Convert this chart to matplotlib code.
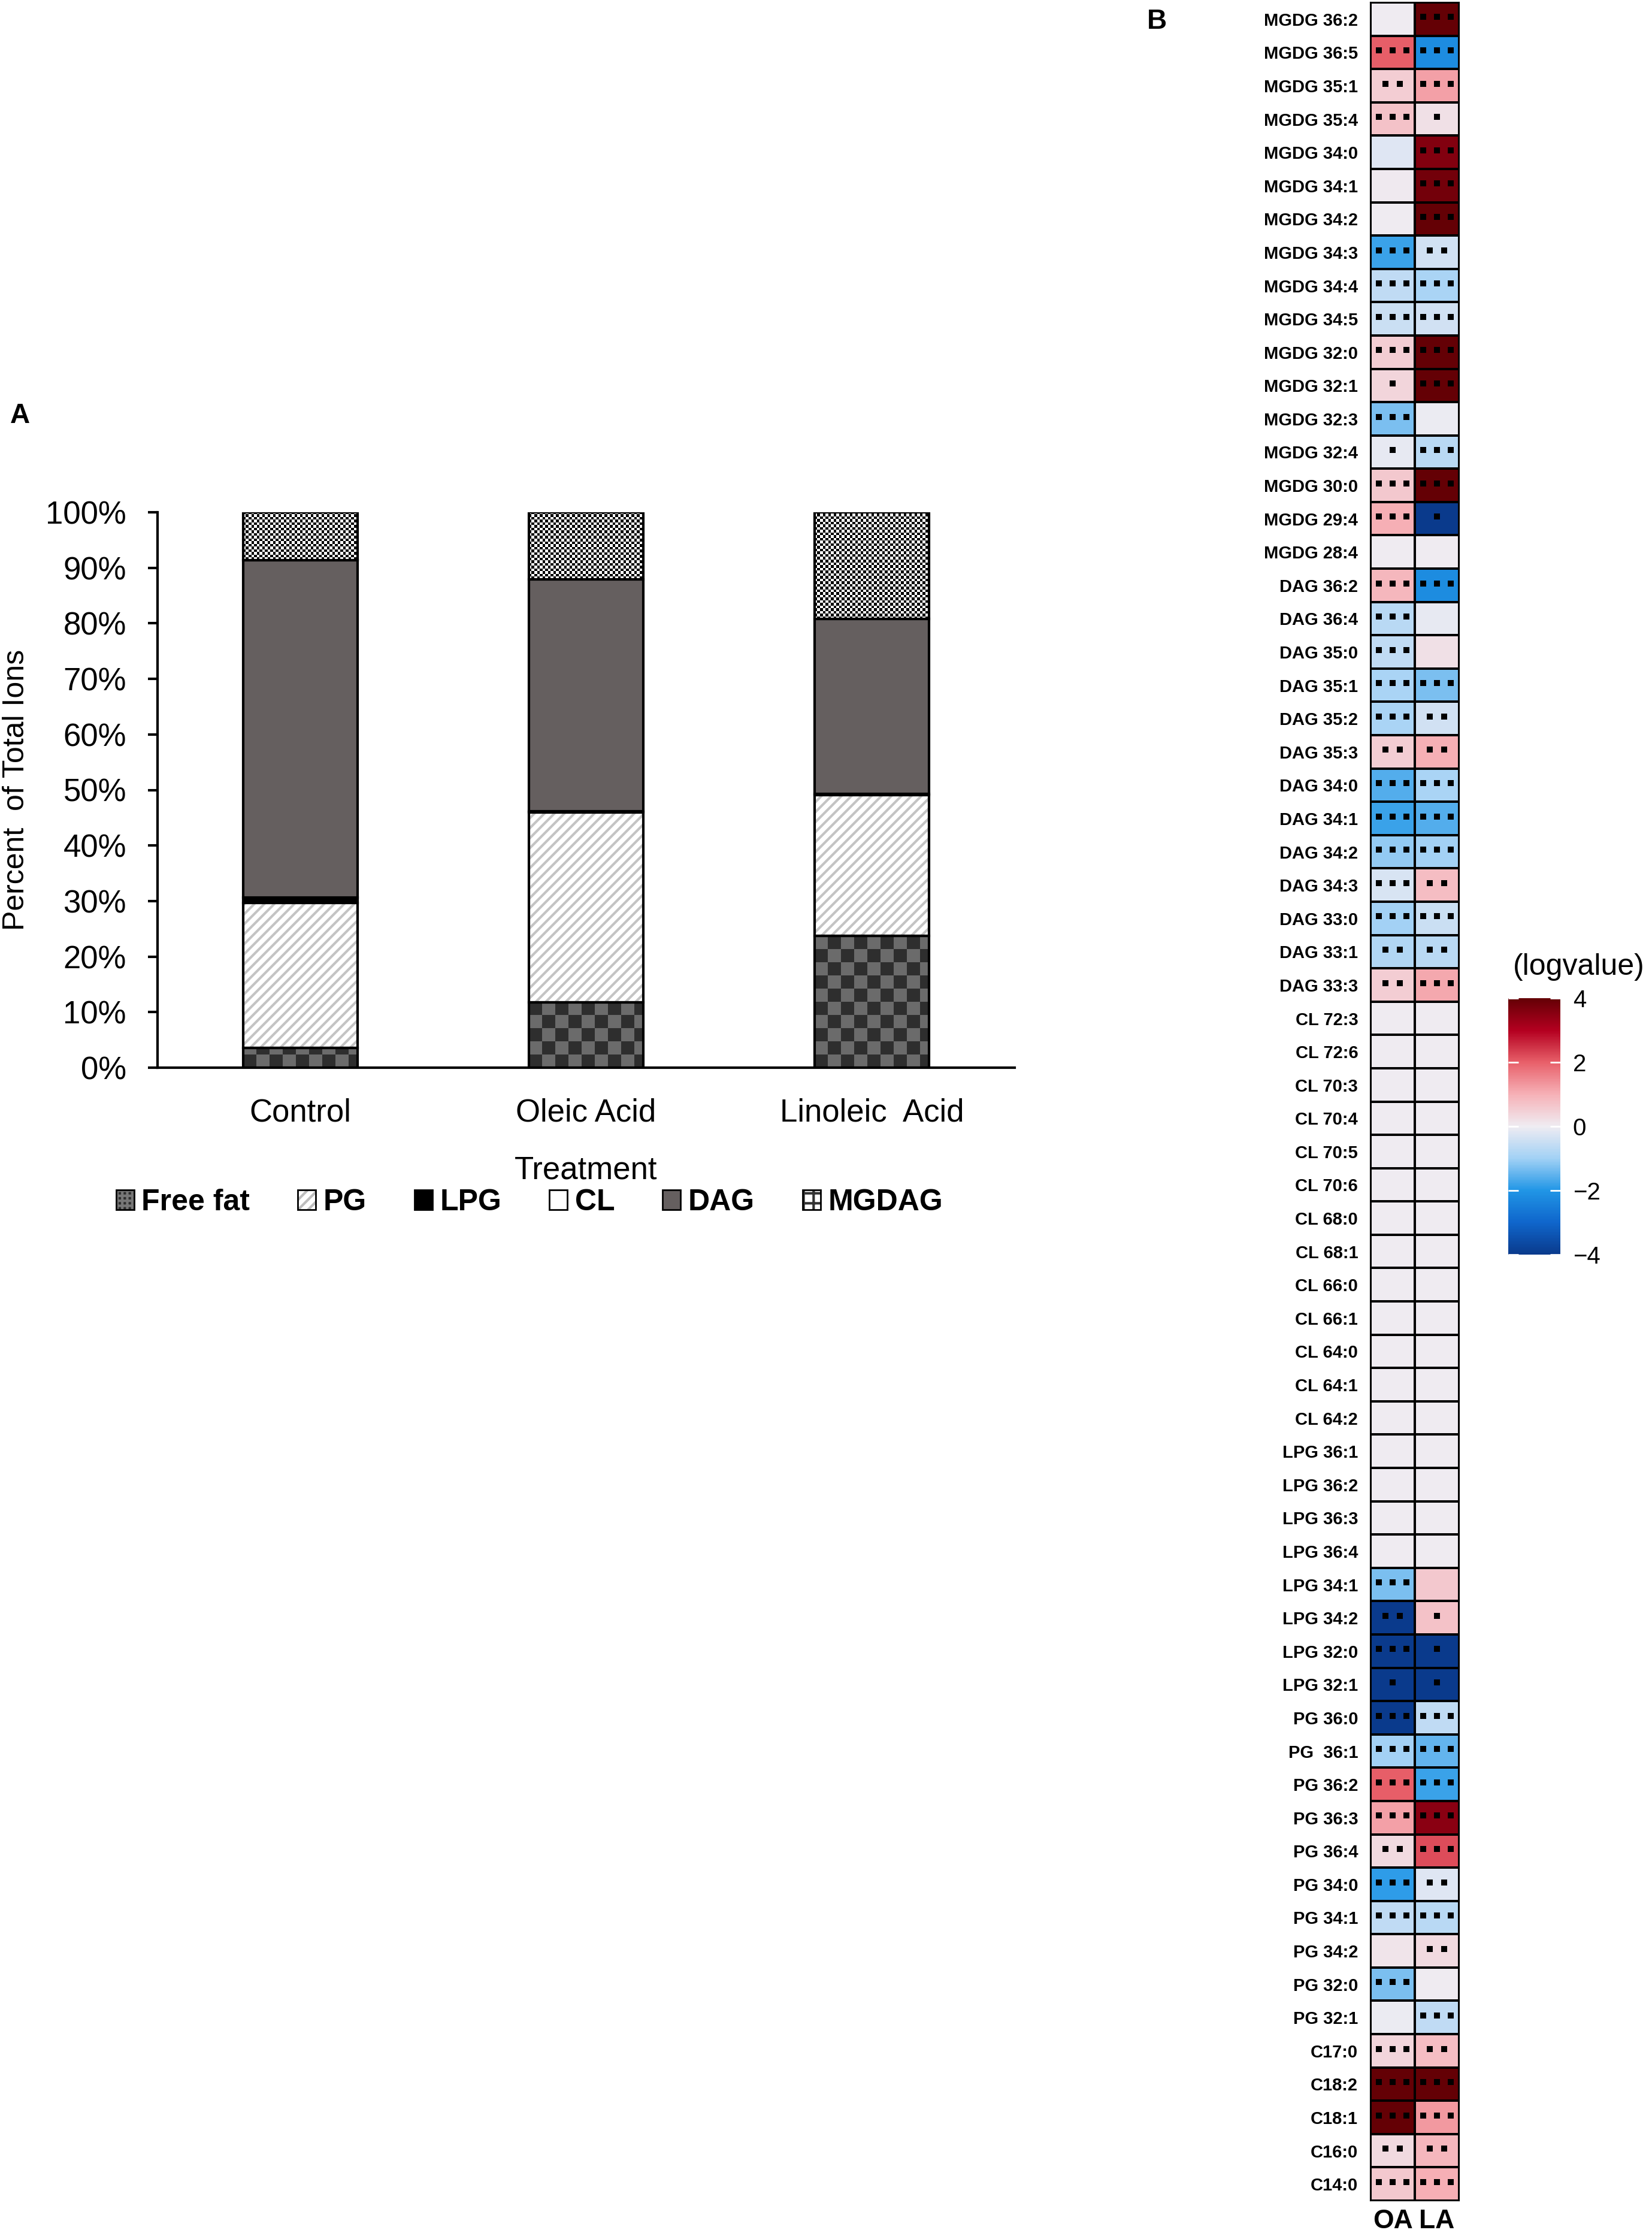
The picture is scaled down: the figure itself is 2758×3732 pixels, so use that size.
import numpy as np
import matplotlib
matplotlib.use('Agg')
import matplotlib.pyplot as plt
from matplotlib.colors import LinearSegmentedColormap, ListedColormap, Normalize
from matplotlib.cm import ScalarMappable
from matplotlib.patches import Patch
from matplotlib.legend_handler import HandlerTuple

# ---------------- Panel A data ----------------
treatments = ['Control', 'Oleic Acid', 'Linoleic  Acid']
classes = ['Free fat', 'PG', 'LPG', 'CL', 'DAG', 'MGDAG']
free_fat = [3.6, 11.8, 23.7]
pg = [26.1, 34.2, 25.4]
lpg = [0.9, 0.2, 0.2]
cl = [0.0, 0.0, 0.0]
dag = [60.8, 41.7, 31.5]
mgdag = [8.6, 12.1, 19.2]
y_ticks = [0, 10, 20, 30, 40, 50, 60, 70, 80, 90, 100]

# ---------------- Panel B data ----------------
lipids = ['MGDG 36:2', 'MGDG 36:5', 'MGDG 35:1', 'MGDG 35:4', 'MGDG 34:0', 'MGDG 34:1',
          'MGDG 34:2', 'MGDG 34:3', 'MGDG 34:4', 'MGDG 34:5', 'MGDG 32:0', 'MGDG 32:1',
          'MGDG 32:3', 'MGDG 32:4', 'MGDG 30:0', 'MGDG 29:4', 'MGDG 28:4',
          'DAG 36:2', 'DAG 36:4', 'DAG 35:0', 'DAG 35:1', 'DAG 35:2', 'DAG 35:3', 'DAG 34:0',
          'DAG 34:1', 'DAG 34:2', 'DAG 34:3', 'DAG 33:0', 'DAG 33:1', 'DAG 33:3',
          'CL 72:3', 'CL 72:6', 'CL 70:3', 'CL 70:4', 'CL 70:5', 'CL 70:6', 'CL 68:0',
          'CL 68:1', 'CL 66:0', 'CL 66:1', 'CL 64:0', 'CL 64:1', 'CL 64:2',
          'LPG 36:1', 'LPG 36:2', 'LPG 36:3', 'LPG 36:4', 'LPG 34:1', 'LPG 34:2',
          'LPG 32:0', 'LPG 32:1',
          'PG 36:0', 'PG  36:1', 'PG 36:2', 'PG 36:3', 'PG 36:4', 'PG 34:0', 'PG 34:1',
          'PG 34:2', 'PG 32:0', 'PG 32:1',
          'C17:0', 'C18:2', 'C18:1', 'C16:0', 'C14:0']
conditions = ['OA', 'LA']
oa_logvalue = [0.0, 2.0, 0.5, 0.7, -0.2, 0.05, 0.0, -1.8, -0.6, -0.5, 0.5, 0.4, -1.3, -0.1, 0.6, 1.0, 0.0,
               0.9, -0.7, -0.6, -0.9, -0.9, 0.5, -1.6, -1.8, -1.1, -0.3, -1.0, -0.8, 0.5,
               0.0, 0.0, 0.0, 0.0, 0.0, 0.0, 0.0, 0.0, 0.0, 0.0, 0.0, 0.0, 0.0,
               0.0, 0.0, 0.0, 0.0, -1.3, -4.5, -4.5, -4.5,
               -4.5, -1.0, 2.0, 1.2, 0.3, -1.9, -0.6, 0.15, -1.3, -0.05,
               0.4, 4.5, 4.5, 0.3, 0.6]
la_logvalue = [4.5, -2.2, 1.2, 0.2, 3.6, 3.8, 4.3, -0.4, -0.9, -0.4, 4.5, 4.0, -0.05, -0.7, 4.5, -4.2, 0.0,
               -2.2, -0.1, 0.2, -1.3, -0.4, 1.0, -0.9, -1.6, -1.0, 0.8, -0.5, -0.7, 1.1,
               0.0, 0.0, 0.0, 0.0, 0.0, 0.0, 0.0, 0.0, 0.0, 0.0, 0.0, 0.0, 0.0,
               0.0, 0.0, 0.0, 0.0, 0.6, 0.7, -4.5, -4.5,
               -0.6, -1.5, -1.8, 3.5, 2.2, -0.2, -0.7, 0.3, 0.0, -0.6,
               0.8, 4.5, 1.3, 0.9, 1.0]
oa_signif = [0, 3, 2, 3, 0, 0, 0, 3, 3, 3, 3, 1, 3, 1, 3, 3, 0,
             3, 3, 3, 3, 3, 2, 3, 3, 3, 3, 3, 2, 2,
             0, 0, 0, 0, 0, 0, 0, 0, 0, 0, 0, 0, 0,
             0, 0, 0, 0, 3, 2, 3, 1,
             3, 3, 3, 3, 2, 3, 3, 0, 3, 0,
             3, 3, 3, 2, 3]
la_signif = [3, 3, 3, 1, 3, 3, 3, 2, 3, 3, 3, 3, 0, 3, 3, 1, 0,
             3, 0, 0, 3, 2, 2, 3, 3, 3, 2, 3, 2, 3,
             0, 0, 0, 0, 0, 0, 0, 0, 0, 0, 0, 0, 0,
             0, 0, 0, 0, 0, 1, 1, 1,
             3, 3, 3, 3, 3, 2, 3, 2, 0, 3,
             2, 3, 3, 2, 3]
cbar_ticks = [-4, -2, 0, 2, 4]

# ---------------- styling ----------------
W, H = 2758, 3732
DPI = 100
plt.rcParams['hatch.linewidth'] = 3.0
NARROW = ['Liberation Sans Narrow', 'Liberation Sans', 'DejaVu Sans']
HELV = ['Liberation Sans', 'DejaVu Sans']

fig = plt.figure(figsize=(W / DPI, H / DPI), dpi=DPI)
fig.patch.set_facecolor('white')

def fx(px):
    return px / W

def fy(py):
    return 1 - py / H

# ================= Panel A =================
axA = fig.add_axes([fx(263), fy(1782), fx(1694 - 263), (1782 - 855) / H])
xpos = np.arange(len(treatments))
bw = 0.40
edge_lw = 3.0

def checker_fill(ax, patch, cell_px, c1, c2, z):
    # fill a bar patch with a checkerboard texture (cell size in pixels)
    x0, y0 = patch.get_x(), patch.get_y()
    w, h = patch.get_width(), patch.get_height()
    if h <= 0:
        return
    cw = cell_px * 3.0 / (1694 - 263)
    ch = cell_px * 100.0 / (1782 - 855)
    nc = int(np.ceil(w / cw))
    nr = int(np.ceil(h / ch))
    arr = np.add.outer(np.arange(nr), np.arange(nc)) % 2
    im = ax.imshow(arr, cmap=ListedColormap([c1, c2]), origin='lower',
                   extent=(x0, x0 + nc * cw, y0, y0 + nr * ch),
                   aspect='auto', interpolation='nearest', zorder=z)
    im.set_clip_path(patch)

bottom = np.zeros(len(treatments))
# Free fat
bars = axA.bar(xpos, free_fat, bw, bottom=bottom, color='#4a4a4a', edgecolor='none', zorder=2)
for p in bars:
    checker_fill(axA, p, 22, '#2e2e2e', '#6b6b6b', 2.5)
axA.bar(xpos, free_fat, bw, bottom=bottom, color='none', edgecolor='black', linewidth=edge_lw, zorder=3)
bottom += np.array(free_fat)
# PG
axA.bar(xpos, pg, bw, bottom=bottom, color='white', edgecolor='#c4c4c4', hatch='//', linewidth=0, zorder=2)
axA.bar(xpos, pg, bw, bottom=bottom, color='none', edgecolor='black', linewidth=edge_lw, zorder=3)
bottom += np.array(pg)
# LPG
axA.bar(xpos, lpg, bw, bottom=bottom, color='black', edgecolor='black', linewidth=edge_lw, zorder=3)
bottom += np.array(lpg)
# CL
axA.bar(xpos, cl, bw, bottom=bottom, color='white', edgecolor='black', linewidth=edge_lw, zorder=3)
bottom += np.array(cl)
# DAG
axA.bar(xpos, dag, bw, bottom=bottom, color='#655f5f', edgecolor='black', linewidth=edge_lw, zorder=3)
bottom += np.array(dag)
# MGDAG
bars = axA.bar(xpos, mgdag, bw, bottom=bottom, color='white', edgecolor='none', zorder=2)
for p in bars:
    checker_fill(axA, p, 4.5, 'white', 'black', 2.5)
axA.bar(xpos, mgdag, bw, bottom=bottom, color='none', edgecolor='black', linewidth=edge_lw, zorder=3)

axA.set_xlim(-0.5, 2.5)
axA.set_ylim(0, 100)
axA.set_yticks(y_ticks)
axA.set_yticklabels([f'{t}%' for t in y_ticks], family=NARROW, fontsize=38)
axA.set_xticks(xpos)
axA.set_xticklabels(treatments, family=NARROW, fontsize=38)
axA.tick_params(axis='y', direction='out', length=11.5, width=3, pad=26)
axA.tick_params(axis='x', length=0, pad=36)
for s in ['top', 'right']:
    axA.spines[s].set_visible(False)
for s in ['left', 'bottom']:
    axA.spines[s].set_linewidth(3)
    axA.spines[s].set_color('black')

fig.text(fx(978), fy(1954), 'Treatment', family=NARROW, fontsize=38, ha='center', va='center')
fig.text(fx(27), fy(1318), 'Percent  of Total Ions', family=HELV, fontsize=36,
         rotation=90, ha='center', va='center')

h_ff = (Patch(facecolor='#2e2e2e', edgecolor='black', linewidth=0),
        Patch(facecolor='none', edgecolor='#777777', hatch='++', linewidth=0),
        Patch(facecolor='none', edgecolor='black', linewidth=2))
h_pg = (Patch(facecolor='white', edgecolor='#bdbdbd', hatch='//', linewidth=0),
        Patch(facecolor='none', edgecolor='black', linewidth=2))
h_lpg = Patch(facecolor='black', edgecolor='black', linewidth=2)
h_cl = Patch(facecolor='white', edgecolor='black', linewidth=2)
h_dag = Patch(facecolor='#655f5f', edgecolor='black', linewidth=2)
h_mg = (Patch(facecolor='white', edgecolor='#333333', hatch='+', linewidth=0),
        Patch(facecolor='none', edgecolor='black', linewidth=2))
leg = fig.legend([h_ff, h_pg, h_lpg, h_cl, h_dag, h_mg], classes,
                 handler_map={tuple: HandlerTuple(ndivide=1, pad=0)},
                 loc='center', bbox_to_anchor=(fx(884), fy(2007)), ncol=6, frameon=False,
                 prop={'family': NARROW, 'weight': 'bold', 'size': 36},
                 handlelength=0.6, handleheight=0.65, handletextpad=0.25, columnspacing=1.6)

fig.text(fx(33), fy(694), 'A', family=HELV, fontweight='bold', fontsize=33, ha='center', va='center')
fig.text(fx(1931), fy(36), 'B', family=HELV, fontweight='bold', fontsize=33, ha='center', va='center')

# ================= Panel B =================
cmap = LinearSegmentedColormap.from_list('lfc', [
    (0.0, '#0a3a8c'), (0.125, '#0f66cc'), (0.25, '#2196e6'), (0.375, '#a2d1f5'),
    (0.5, '#efecf2'), (0.625, '#f6b1b7'), (0.75, '#e8606a'), (0.875, '#b40020'),
    (1.0, '#640005')])
norm = Normalize(vmin=-4, vmax=4)

Z = np.column_stack([oa_logvalue, la_logvalue])
nrow = len(lipids)
axB = fig.add_axes([fx(2288), fy(3673), fx(2436 - 2288), (3673 - 4) / H])
axB.pcolormesh(np.arange(3), np.arange(nrow + 1), Z, cmap=cmap, norm=norm,
               edgecolors='black', linewidth=1.5)
sig = [oa_signif, la_signif]
offsets = {1: [0.0], 2: [-0.158, 0.158], 3: [-0.31, 0.0, 0.31]}
dx, dy = [], []
for j in range(2):
    for i in range(nrow):
        n = sig[j][i]
        if n > 0:
            for o in offsets[n]:
                dx.append(j + 0.5 + o)
                dy.append(i + 0.5 - 0.06)
axB.scatter(dx, dy, marker='s', s=44, color='black', linewidths=0, zorder=4)
axB.set_xlim(0, 2)
axB.set_ylim(nrow, 0)
axB.set_yticks(np.arange(nrow) + 0.5)
axB.set_yticklabels(lipids, family=HELV, fontweight='bold', fontsize=21)
axB.set_xticks([0.5, 1.5])
axB.set_xticklabels(conditions, family=HELV, fontweight='bold', fontsize=32)
axB.tick_params(axis='y', length=0, pad=15)
axB.tick_params(axis='x', length=0, pad=10)
for s in axB.spines.values():
    s.set_linewidth(1.5)

cax = fig.add_axes([fx(2518), fy(2094), fx(2605 - 2518), (2094 - 1666) / H])
cb = fig.colorbar(ScalarMappable(norm=norm, cmap=cmap), cax=cax, ticks=cbar_ticks)
cb.outline.set_visible(False)
cax.yaxis.set_ticks_position('both')
cax.tick_params(axis='y', direction='in', color='white', length=12, width=2,
                labelsize=29, pad=15, labelleft=False, labelright=True)
for lab in cax.get_yticklabels():
    lab.set_family(HELV)
fig.text(fx(2636), fy(1614), '(logvalue)', family=HELV, fontsize=36, ha='center', va='center')

fig.savefig('out.png', dpi=DPI, facecolor='white')
